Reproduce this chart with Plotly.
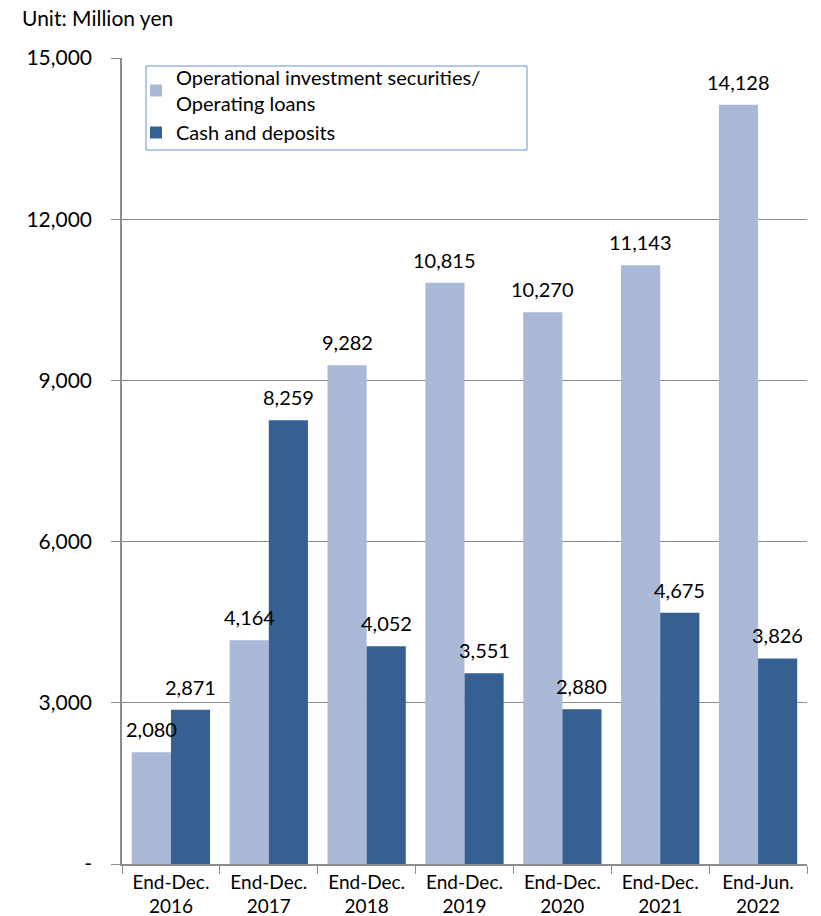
import plotly.graph_objects as go

# Period labels along the x-axis
periods = ["End-Dec.<br>2016", "End-Dec.<br>2017", "End-Dec.<br>2018", "End-Dec.<br>2019",
           "End-Dec.<br>2020", "End-Dec.<br>2021", "End-Jun.<br>2022"]

# Balances in million yen
investments_loans = [2080, 4164, 9282, 10815, 10270, 11143, 14128]
cash_deposits = [2871, 8259, 4052, 3551, 2880, 4675, 3826]

# Y-axis ticks
y_ticks = [0, 3000, 6000, 9000, 12000, 15000]
y_tick_text = ["-", "3,000", "6,000", "9,000", "12,000", "15,000"]

FONT = "Lato, Carlito, Calibri, sans-serif"
LIGHT = "#A9B9D7"
DARK = "#366092"
AXIS_GRAY = "#8C8C8C"

# Plot area geometry in pixels
MARGIN_L, MARGIN_R, MARGIN_T, MARGIN_B = 122, 14, 58, 52
WIDTH, HEIGHT = 821, 916
BARGAP = 0.2
plot_w = WIDTH - MARGIN_L - MARGIN_R
plot_h = HEIGHT - MARGIN_T - MARGIN_B
bar_w = plot_w / len(periods) * (1 - BARGAP) / 2


def px_x(px):
    """Convert a figure pixel x position to paper coordinates."""
    return (px - MARGIN_L) / plot_w


def px_y(px):
    """Convert a figure pixel y position (from top) to paper coordinates."""
    return 1 - (px - MARGIN_T) / plot_h


fig = go.Figure()
fig.add_trace(go.Bar(
    x=periods, y=investments_loans,
    name="Operational investment securities/<br>Operating loans",
    marker=dict(color=LIGHT, line=dict(width=0)),
))
fig.add_trace(go.Bar(
    x=periods, y=cash_deposits,
    name="Cash and deposits",
    marker=dict(color=DARK, line=dict(width=0)),
))

# Value labels above each bar
annotations = []
for series, shift in ((investments_loans, -bar_w / 2), (cash_deposits, bar_w / 2)):
    for cat, val in zip(periods, series):
        annotations.append(dict(
            x=cat, y=val, xref="x", yref="y", text=f"{val:,}",
            showarrow=False, xanchor="center", yanchor="bottom",
            xshift=shift, yshift=9,
            font=dict(size=20, family=FONT, color="#000000"),
        ))

annotations.append(dict(
    text="Unit: Million yen", x=px_x(20), y=px_y(18),
    xref="paper", yref="paper", xanchor="left", yanchor="middle",
    showarrow=False, font=dict(size=21, family=FONT, color="#000000"),
))

# Legend frame
shapes = [dict(
    type="rect", xref="paper", yref="paper",
    x0=px_x(146), x1=px_x(527), y0=px_y(150), y1=px_y(66),
    line=dict(color="#6A90C8", width=1), fillcolor="white", layer="above",
)]

fig.update_layout(
    width=WIDTH, height=HEIGHT,
    margin=dict(l=MARGIN_L, r=MARGIN_R, t=MARGIN_T, b=MARGIN_B),
    paper_bgcolor="white", plot_bgcolor="white",
    barmode="group", bargap=BARGAP, bargroupgap=0,
    font=dict(family=FONT, color="#000000"),
    showlegend=True,
    legend=dict(
        x=px_x(136), y=1.0, xanchor="left", yanchor="top",
        bgcolor="rgba(0,0,0,0)", borderwidth=0,
        font=dict(size=20, family=FONT),
        itemsizing="constant", tracegroupgap=0,
    ),
    annotations=annotations,
    shapes=shapes,
)

fig.update_xaxes(
    showline=True, linecolor=AXIS_GRAY, linewidth=1.5,
    ticks="outside", tickson="boundaries", ticklen=8, tickcolor=AXIS_GRAY,
    tickfont=dict(size=19, family=FONT), showgrid=False, automargin=False,
)
fig.update_yaxes(
    range=[0, 15000], tickvals=y_ticks, ticktext=y_tick_text,
    showline=True, linecolor=AXIS_GRAY, linewidth=1.5,
    ticks="outside", ticklen=9, tickcolor=AXIS_GRAY,
    showgrid=True, gridcolor=AXIS_GRAY, gridwidth=1,
    tickfont=dict(size=21, family=FONT), zeroline=False,
    ticklabelstandoff=15, automargin=False,
)

fig.write_html("out.html")
